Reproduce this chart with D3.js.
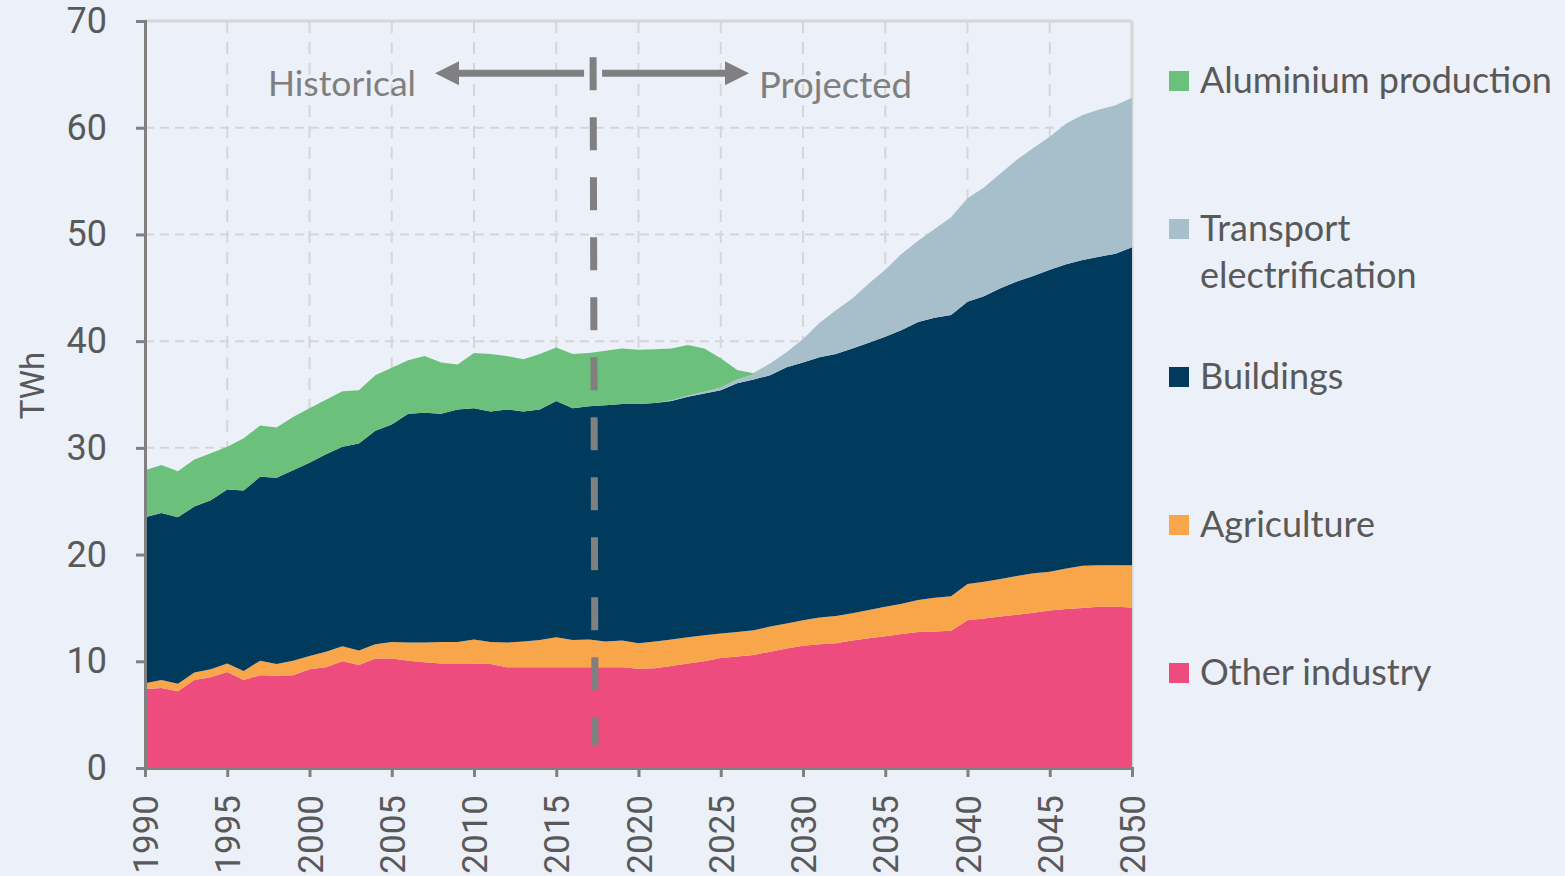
<!DOCTYPE html>
<html>
<head>
<meta charset="utf-8">
<script src="https://cdn.jsdelivr.net/npm/d3@7/dist/d3.min.js"></script>
<style>
    body { margin: 0; background: #ECF0F9; }
    svg { display: block; }
</style>
</head>
<body>
<svg id="chart" width="1565" height="876"></svg>
<script>

var years = d3.range(1990, 2051);

// TWh per sector, 1990..2050
var otherIndustry = [7.4, 7.5, 7.2, 8.25, 8.5, 9.0, 8.25, 8.7, 8.65, 8.7,
    9.25, 9.45, 10.0, 9.65, 10.25, 10.25, 10.05, 9.9, 9.8, 9.8,
    9.8, 9.75, 9.45, 9.45, 9.45, 9.45, 9.45, 9.45, 9.45, 9.45,
    9.3, 9.35, 9.55, 9.8, 10.0, 10.3, 10.45, 10.6, 10.9, 11.2,
    11.45, 11.6, 11.7, 11.95, 12.15, 12.35, 12.55, 12.75, 12.8, 12.85,
    13.85, 14.0, 14.2, 14.35, 14.55, 14.75, 14.9, 15.0, 15.1, 15.1, 15.05];

var agriculture = [0.55, 0.75, 0.7, 0.7, 0.75, 0.8, 0.85, 1.35, 1.1, 1.35,
    1.25, 1.45, 1.4, 1.35, 1.35, 1.55, 1.7, 1.85, 2.0, 2.0,
    2.25, 2.05, 2.3, 2.4, 2.55, 2.8, 2.55, 2.6, 2.4, 2.5,
    2.4, 2.5, 2.5, 2.45, 2.45, 2.3, 2.3, 2.3, 2.35, 2.35,
    2.4, 2.5, 2.55, 2.55, 2.65, 2.75, 2.85, 3.0, 3.15, 3.25,
    3.4, 3.45, 3.5, 3.65, 3.7, 3.65, 3.8, 3.95, 3.9, 3.9, 3.95];

var buildings = [15.55, 15.65, 15.6, 15.55, 15.85, 16.3, 16.9, 17.25, 17.45, 17.85,
    18.1, 18.5, 18.7, 19.4, 20.0, 20.4, 21.45, 21.55, 21.4, 21.8,
    21.65, 21.6, 21.85, 21.55, 21.6, 22.15, 21.7, 21.85, 22.15, 22.15,
    22.4, 22.35, 22.35, 22.55, 22.65, 22.8, 23.3, 23.5, 23.55, 24.0,
    24.15, 24.4, 24.55, 24.8, 25.05, 25.3, 25.65, 26.05, 26.25, 26.35,
    26.45, 26.75, 27.25, 27.6, 27.85, 28.3, 28.5, 28.65, 28.9, 29.2, 29.8];

var transport = [0, 0, 0, 0, 0, 0, 0, 0, 0, 0,
    0, 0, 0, 0, 0, 0, 0, 0, 0, 0,
    0, 0, 0, 0, 0, 0, 0, 0, 0, 0,
    0, 0, 0.05, 0.1, 0.15, 0.25, 0.35, 0.5, 1.1, 1.4,
    2.2, 3.2, 4.1, 4.7, 5.55, 6.3, 7.15, 7.6, 8.3, 9.15,
    9.7, 10.2, 10.75, 11.4, 12.0, 12.45, 13.2, 13.6, 13.8, 13.9, 14.0];

var aluminium = [4.4, 4.5, 4.3, 4.4, 4.4, 4.0, 4.9, 4.8, 4.7, 5.0,
    5.1, 5.1, 5.2, 5.0, 5.2, 5.3, 5.0, 5.3, 4.8, 4.2,
    5.2, 5.4, 5.0, 4.9, 5.2, 5.0, 5.1, 5.0, 5.1, 5.2,
    5.1, 5.05, 4.85, 4.75, 4.05, 2.75, 0.9, 0.1, 0, 0,
    0, 0, 0, 0, 0, 0, 0, 0, 0, 0,
    0, 0, 0, 0, 0, 0, 0, 0, 0, 0, 0];

var keys = ["other", "agri", "build", "trans", "alu"];
var colours = ["#EE4C7E", "#F9A54A", "#003A5D", "#A7BFCB", "#6BC17B"];

// legend rows, top to bottom
var legendLines = [["Aluminium production"], ["Transport", "electrification"],
    ["Buildings"], ["Agriculture"], ["Other industry"]];
var legendKeys = ["alu", "trans", "build", "agri", "other"];
var legendY = [81, 229, 377, 525, 673];

var yTicks = [0, 10, 20, 30, 40, 50, 60, 70];
var xTicks = d3.range(1990, 2051, 5);

var divideYear = 2017.3;

var margin = {top: 21, right: 433, bottom: 108, left: 145};
var width = 1565 - margin.left - margin.right;
var height = 876 - margin.top - margin.bottom;

var axisFont = "Roboto, 'Liberation Sans', sans-serif";
var labelFont = "Lato, 'Open Sans', sans-serif";

var svg = d3.select("#chart");
var g = svg.append("g").attr("transform", "translate(" + margin.left + "," + margin.top + ")");

var x = d3.scaleLinear().domain([1990, 2050]).range([0, width]);
var y = d3.scaleLinear().domain([0, 70]).range([height, 0]);

var rows = years.map(function(yr, i) {
    return {year: yr, other: otherIndustry[i], agri: agriculture[i],
        build: buildings[i], trans: transport[i], alu: aluminium[i]};
});

var series = d3.stack().keys(keys)(rows);

// grid
g.append("g").selectAll("line").data(xTicks.slice(1, -1)).join("line")
    .attr("x1", function(d) { return x(d); }).attr("x2", function(d) { return x(d); })
    .attr("y1", 0).attr("y2", height)
    .attr("stroke", "#D6D6D6").attr("stroke-width", 2).attr("stroke-dasharray", "12 9");

g.append("g").selectAll("line").data(yTicks.slice(1, -1)).join("line")
    .attr("x1", 0).attr("x2", width)
    .attr("y1", function(d) { return y(d); }).attr("y2", function(d) { return y(d); })
    .attr("stroke", "#D6D6D6").attr("stroke-width", 2).attr("stroke-dasharray", "9 6");

g.append("line").attr("x1", 0).attr("x2", width).attr("y1", 0).attr("y2", 0)
    .attr("stroke", "#D6D6D6").attr("stroke-width", 3);
g.append("line").attr("x1", width).attr("x2", width).attr("y1", 0).attr("y2", height)
    .attr("stroke", "#D6D6D6").attr("stroke-width", 3);

// stacked areas
var area = d3.area()
    .x(function(d) { return x(d.data.year); })
    .y0(function(d) { return y(d[0]); })
    .y1(function(d) { return y(d[1]); });

g.append("g").selectAll("path").data(series).join("path")
    .attr("d", area)
    .attr("fill", function(d, i) { return colours[i]; });

// axes
var yAxis = g.append("g")
    .call(d3.axisLeft(y).tickValues(yTicks).tickSize(9).tickPadding(29));
var xAxis = g.append("g").attr("transform", "translate(0," + height + ")")
    .call(d3.axisBottom(x).tickValues(xTicks).tickSize(9).tickFormat(d3.format("d")));

[yAxis, xAxis].forEach(function(ax) {
    ax.select(".domain").attr("stroke", "#808080").attr("stroke-width", 3);
    ax.selectAll(".tick line").attr("stroke", "#808080").attr("stroke-width", 3);
    ax.selectAll(".tick text").attr("fill", "#595959")
        .style("font-family", axisFont).style("font-size", "36px");
});

xAxis.selectAll(".tick text")
    .style("font-size", "35px")
    .attr("transform", "rotate(-90)")
    .attr("x", -27).attr("y", 0).attr("dy", "0.36em")
    .style("text-anchor", "end");

g.append("text")
    .attr("transform", "translate(" + (-101) + "," + (height / 2 - 9) + ") rotate(-90)")
    .attr("text-anchor", "middle")
    .attr("fill", "#595959")
    .style("font-family", axisFont).style("font-size", "33px")
    .text("TWh");

// historical / projected divider
var xd = x(divideYear);
g.append("line")
    .attr("x1", xd - 1).attr("x2", xd + 1)
    .attr("y1", y(66.6)).attr("y2", y(2.1))
    .attr("stroke", "#808080").attr("stroke-width", 7)
    .attr("stroke-dasharray", "33 27");

var arrowY = y(65.1);
g.append("line").attr("x1", xd - 10).attr("x2", 305).attr("y1", arrowY).attr("y2", arrowY)
    .attr("stroke", "#808080").attr("stroke-width", 7);
g.append("path")
    .attr("d", "M290," + arrowY + "l24,-12l0,24z").attr("fill", "#808080");
g.append("line").attr("x1", xd + 8).attr("x2", 585).attr("y1", arrowY).attr("y2", arrowY)
    .attr("stroke", "#808080").attr("stroke-width", 7);
g.append("path")
    .attr("d", "M604," + arrowY + "l-24,-12l0,24z").attr("fill", "#808080");

g.append("text").attr("x", 123).attr("y", 75)
    .attr("fill", "#7F7F7F").style("font-family", labelFont).style("font-size", "35.5px")
    .text("Historical");
g.append("text").attr("x", 614).attr("y", 77)
    .attr("fill", "#7F7F7F").style("font-family", labelFont).style("font-size", "36.5px")
    .text("Projected");

// legend
var legend = svg.append("g");
legendKeys.forEach(function(k, i) {
    var row = legend.append("g").attr("transform", "translate(1169," + legendY[i] + ")");
    row.append("rect").attr("x", 0).attr("y", -10).attr("width", 20).attr("height", 20)
        .attr("fill", colours[keys.indexOf(k)]);
    row.append("text").attr("x", 31).attr("y", 0)
        .attr("fill", "#595959").style("font-family", labelFont).style("font-size", "36px")
        .selectAll("tspan").data(legendLines[i]).join("tspan")
        .attr("x", 31).attr("dy", function(d, j) { return j ? 47 : 12; })
        .text(function(d) { return d; });
});

</script>
</body>
</html>
